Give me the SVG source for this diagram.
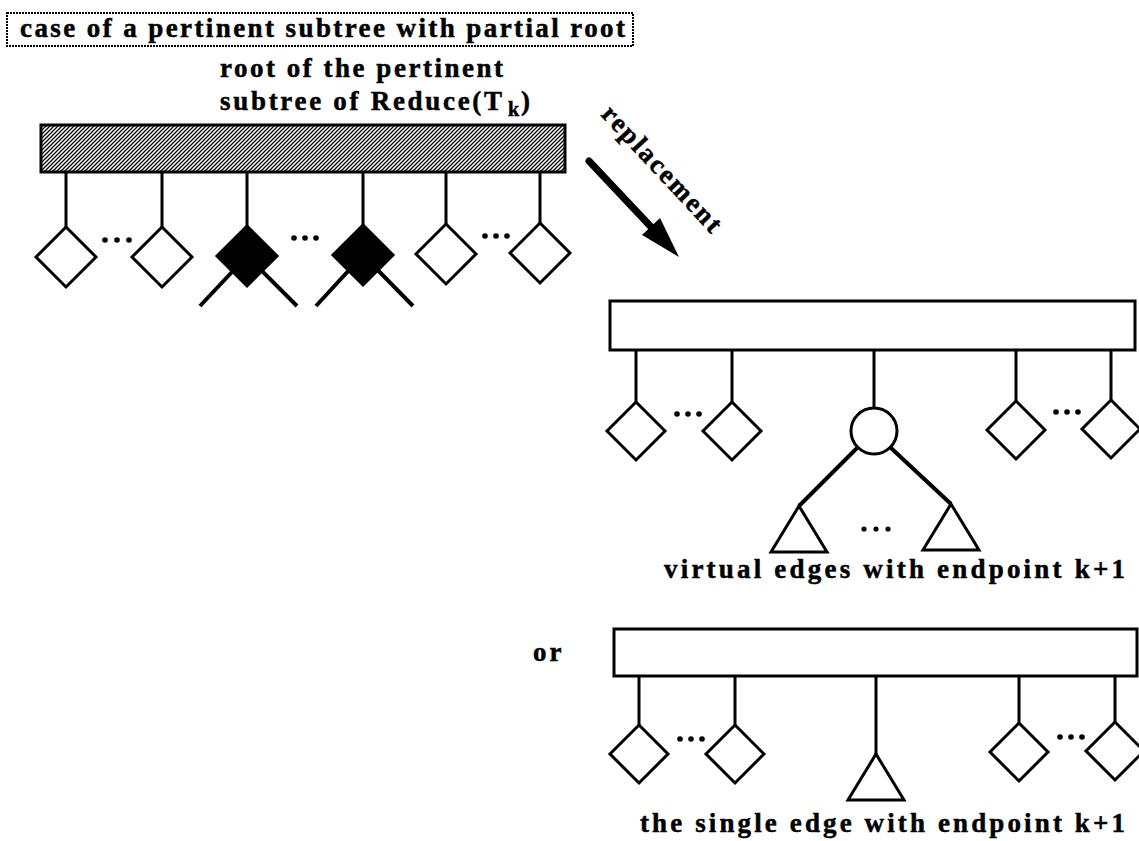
<svg xmlns="http://www.w3.org/2000/svg" xmlns:xlink="http://www.w3.org/1999/xlink" width="1139" height="841" viewBox="0 0 1139 841">
<style>
  .t { font-family: "Liberation Serif", "Times New Roman", serif; font-weight: bold; font-size: 27px; fill: #000; stroke: #000; stroke-width: 0.5; }
  .ln { stroke: #000; stroke-width: 3; fill: none; stroke-linecap: square; }
  .leg { stroke: #000; stroke-width: 4; fill: none; stroke-linecap: butt; }
  .node { stroke: #000; stroke-width: 3; fill: #fff; stroke-linejoin: miter; }
  .filled { stroke: #000; stroke-width: 3; fill: #000; }
  .bar { stroke: #000; stroke-width: 3; fill: #fff; }
  .dot { fill: #000; }
</style>
<defs>
  <pattern id="hatch" width="4" height="4" patternUnits="userSpaceOnUse">
    <rect width="4" height="4" fill="#fff"/>
    <path d="M-1,1 L1,-1 M0,4 L4,0 M3,5 L5,3" stroke="#000" stroke-width="1.25"/>
  </pattern>
  <path id="dia" d="M0,-29 L29,0 L0,29 L-29,0 Z"/>
  <path id="dia2" d="M0,-30 L30,0 L0,30 L-30,0 Z"/>
  <path id="tri" d="M0,0 L28,46 L-28,46 Z"/>
</defs>
<rect width="1139" height="841" fill="#fff"/>

<g id="title">
  <rect x="7" y="13" width="626" height="33" fill="#fff" stroke="#000" stroke-width="2" stroke-dasharray="2 1"/>
  <text class="t" x="20" y="37" textLength="605" lengthAdjust="spacing">case of a pertinent subtree with partial root</text>
</g>

<g id="root-label">
  <text class="t" x="220" y="77" textLength="283" lengthAdjust="spacing">root of the pertinent</text>
  <text class="t" y="110" letter-spacing="2.7"><tspan x="220">subtree of Reduce(T</tspan><tspan x="508" dy="6" font-size="20" letter-spacing="0">k</tspan><tspan x="521" dy="-6" letter-spacing="0">)</tspan></text>
</g>

<g id="connectors">
  <path class="ln" d="M66,172 V227 M162,172 V227 M247,172 V226 M363,172 V225 M446,172 V225 M540,172 V224"/>
  <path class="leg" d="M247,256 L200,306 M247,256 L297,306 M363,255 L316,306 M363,255 L413,306"/>
  <line x1="589" y1="161" x2="653" y2="229" stroke="#000" stroke-width="7" stroke-linecap="round"/>
  <polygon points="679,257 642,235 660,218" fill="#000"/>
  <path class="ln" d="M636,350 V402 M732,350 V402 M874,350 V408 M1016,350 V401 M1111,350 V400"/>
  <path class="leg" d="M857,448 L799,506 M891,448 L951,504"/>
  <path class="ln" d="M639,676 V725 M735,676 V725 M876,676 V754 M1019,676 V723 M1115,676 V722"/>
</g>

<g id="root-bar">
  <rect x="41" y="125" width="524" height="47" fill="url(#hatch)" stroke="#000" stroke-width="3"/>
</g>

<g id="left-children">
  <use xlink:href="#dia2" href="#dia2" class="node" x="66" y="257"/>
  <use xlink:href="#dia2" href="#dia2" class="node" x="162" y="257"/>
  <use xlink:href="#dia2" href="#dia2" class="filled" x="247" y="256"/>
  <use xlink:href="#dia2" href="#dia2" class="filled" x="363" y="255"/>
  <use xlink:href="#dia2" href="#dia2" class="node" x="446" y="254"/>
  <use xlink:href="#dia2" href="#dia2" class="node" x="540" y="253"/>
  <circle class="dot" cx="105" cy="240" r="2.8"/><circle class="dot" cx="117" cy="240" r="2.8"/><circle class="dot" cx="129" cy="240" r="2.8"/>
  <circle class="dot" cx="294" cy="238" r="2.8"/><circle class="dot" cx="305" cy="238" r="2.8"/><circle class="dot" cx="316" cy="238" r="2.8"/>
  <circle class="dot" cx="485" cy="236" r="2.8"/><circle class="dot" cx="496" cy="236" r="2.8"/><circle class="dot" cx="507" cy="236" r="2.8"/>
</g>

<g id="replacement-label">
  <text class="t" transform="translate(600,115) rotate(47)" textLength="163" lengthAdjust="spacing">replacement</text>
</g>

<g id="result-1">
  <rect class="bar" x="610" y="301" width="525" height="49"/>
  <use xlink:href="#dia" href="#dia" class="node" x="636" y="431"/>
  <use xlink:href="#dia" href="#dia" class="node" x="732" y="431"/>
  <use xlink:href="#dia" href="#dia" class="node" x="1016" y="430"/>
  <use xlink:href="#dia" href="#dia" class="node" x="1111" y="429"/>
  <circle class="node" cx="874" cy="431" r="23"/>
  <use xlink:href="#tri" href="#tri" class="node" x="799" y="506"/>
  <use xlink:href="#tri" href="#tri" class="node" x="951" y="504"/>
  <circle class="dot" cx="677" cy="414" r="2.8"/><circle class="dot" cx="688" cy="414" r="2.8"/><circle class="dot" cx="699" cy="414" r="2.8"/>
  <circle class="dot" cx="1056" cy="412" r="2.8"/><circle class="dot" cx="1067" cy="412" r="2.8"/><circle class="dot" cx="1078" cy="412" r="2.8"/>
  <circle class="dot" cx="864" cy="529" r="2.6"/><circle class="dot" cx="876" cy="529" r="2.6"/><circle class="dot" cx="888" cy="529" r="2.6"/>
  <text class="t" x="664" y="578" textLength="461" lengthAdjust="spacing">virtual edges with endpoint k+1</text>
</g>

<g id="or-label">
  <text class="t" x="533" y="661" letter-spacing="3">or</text>
</g>

<g id="result-2">
  <rect class="bar" x="614" y="629" width="523" height="47"/>
  <use xlink:href="#dia" href="#dia" class="node" x="639" y="754"/>
  <use xlink:href="#dia" href="#dia" class="node" x="735" y="754"/>
  <use xlink:href="#dia" href="#dia" class="node" x="1019" y="752"/>
  <use xlink:href="#dia" href="#dia" class="node" x="1115" y="751"/>
  <use xlink:href="#tri" href="#tri" class="node" x="876" y="754"/>
  <circle class="dot" cx="680" cy="739" r="2.8"/><circle class="dot" cx="691" cy="739" r="2.8"/><circle class="dot" cx="702" cy="739" r="2.8"/>
  <circle class="dot" cx="1060" cy="737" r="2.8"/><circle class="dot" cx="1071" cy="737" r="2.8"/><circle class="dot" cx="1082" cy="737" r="2.8"/>
  <text class="t" x="640" y="832" textLength="485" lengthAdjust="spacing">the single edge with endpoint k+1</text>
</g>
</svg>
